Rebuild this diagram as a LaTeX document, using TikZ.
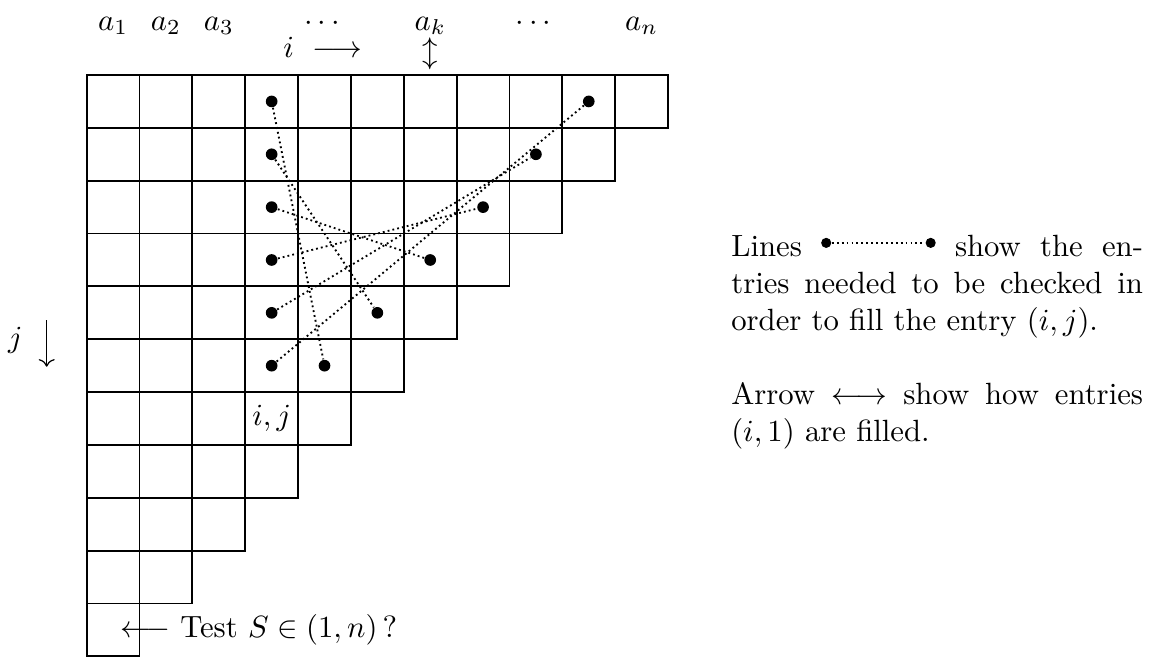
\documentclass[tikz,border=0pt]{standalone}
\usepackage{amsmath}
\usetikzlibrary{arrows.meta, positioning}

\begin{document}
\begin{tikzpicture}[
  x=17.2pt, y=-17.2pt,
  cell/.style={rectangle, draw, line width=0.6pt, minimum size=17.2pt,
               inner sep=0pt, outer sep=0pt},
  dot/.style={circle, fill, inner sep=0pt, minimum size=3.8pt},
  dotline/.style={line width=0.6pt, dash pattern=on 0.6pt off 1pt},
  lab/.style={inner sep=0pt, anchor=base},
  note/.style={inner sep=0pt, anchor=base west, text width=134pt, align=justify},
  arrow/.style={-{Computer Modern Rightarrow}, line width=0.4pt}
]
\useasboundingbox (-1.64,-1.419) rectangle (20.138,11.031);
\foreach \r in {0,...,10}{
  \pgfmathtruncatemacro{\last}{10-\r}
  \foreach \c in {0,...,\last}
    \node[cell] (c-\r-\c) at (\c+0.5,\r+0.5) {};
}
\foreach \c/\t in {0/a_1, 1/a_2, 2/a_3, 4/\cdots, 6/a_k, 8/\cdots, 10/a_n}
  \node[lab] (top-\c) at (\c+0.5,-0.851) {$\t$};
\node[lab] (irow) at (4.47,-0.331) {$i\ \longrightarrow$};
\node[inner sep=0pt] (kpos) at (6.505,-0.397) {$\updownarrow$};
\node[lab] (jcol) at (-1.35,5.147) {$j$};
\coordinate (jtop) at (-0.757,4.64);
\coordinate (jbot) at (-0.757,5.52);
\draw[arrow] (jtop) -- (jbot);
\node[inner sep=0pt] (ij) at (c-6-3) {$i,j$};
\node[inner sep=0pt, anchor=base west] (test) at (0.632,10.649)
  {$\longleftarrow$ Test $S\in(1,n)$\,?};
\foreach \r in {0,...,5}{
  \pgfmathtruncatemacro{\k}{5-\r}
  \pgfmathtruncatemacro{\m}{4+\r}
  \node[dot] (p-\r) at (c-\r-3) {};
  \node[dot] (q-\r) at (c-\k-\m) {};
  \draw[dotline] (p-\r) -- (q-\r);
}
\node[note] (legend) at (12.185,3.438)
  {Lines \tikz[baseline=-4.5pt]{\node[dot, minimum size=3.3pt] (l-a) at (0pt,0pt) {};
      \node[dot, minimum size=3.3pt] (l-b) at (34pt,0pt) {};
      \draw[dotline] (l-a) -- (l-b);}
   show the en-\linebreak tries needed to be checked in\linebreak
   order to fill the entry $(i,j)$.\par\vspace{\baselineskip}
   Arrow $\longleftrightarrow$ show how entries\linebreak $(i,1)$ are filled.};
\end{tikzpicture}
\end{document}
